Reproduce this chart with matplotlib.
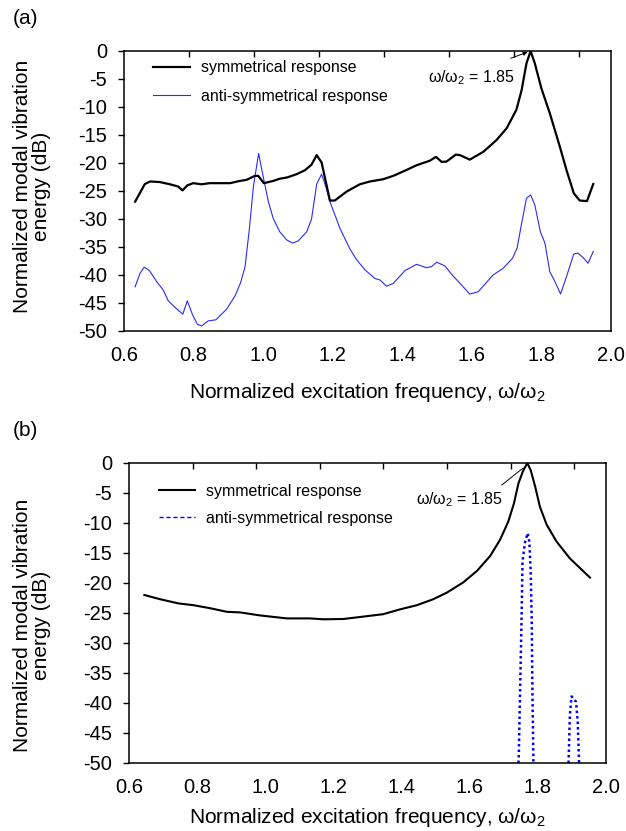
import matplotlib
matplotlib.use("Agg")
import matplotlib.pyplot as plt
from matplotlib.lines import Line2D

plt.rcParams['font.family'] = ['Liberation Sans', 'DejaVu Sans']
plt.rcParams['mathtext.fontset'] = 'custom'
plt.rcParams['mathtext.rm'] = 'Liberation Sans'
plt.rcParams['mathtext.default'] = 'regular'

# ---------------- data ----------------
xticks = [0.6, 0.8, 1.0, 1.2, 1.4, 1.6, 1.8, 2.0]
xtick_labels = ["0.6", "0.8", "1.0", "1.2", "1.4", "1.6", "1.8", "2.0"]
yticks = [0, -5, -10, -15, -20, -25, -30, -35, -40, -45, -50]
ytick_labels = ["0", "-5", "-10", "-15", "-20", "-25", "-30", "-35", "-40", "-45", "-50"]

sym_a_f = [0.632, 0.660, 0.675, 0.703, 0.732, 0.756, 0.768, 0.782, 0.799, 0.823, 0.847, 0.905,
           0.933, 0.953, 0.976, 0.986, 1.002, 1.029, 1.048, 1.068, 1.096, 1.120, 1.139, 1.154,
           1.168, 1.192, 1.206, 1.240, 1.278, 1.307, 1.345, 1.374, 1.412, 1.441, 1.479, 1.497,
           1.513, 1.527, 1.554, 1.566, 1.594, 1.633, 1.671, 1.700, 1.728, 1.743, 1.757, 1.769,
           1.781, 1.800, 1.824, 1.853, 1.872, 1.893, 1.910, 1.931, 1.949]
sym_a_db = [-26.9, -23.75, -23.3, -23.4, -23.8, -24.2, -24.9, -24.0, -23.6, -23.8, -23.6, -23.6,
            -23.2, -23.0, -22.3, -22.3, -23.6, -23.2, -22.8, -22.6, -22.0, -21.3, -20.3, -18.6,
            -19.9, -26.7, -26.7, -25.1, -23.8, -23.3, -22.9, -22.3, -21.25, -20.4, -19.6, -18.9,
            -19.8, -19.75, -18.5, -18.6, -19.4, -18.0, -15.9, -13.8, -10.5, -7.0, -2.2, 0.0,
            -2.2, -6.7, -11.1, -17.1, -21.25, -25.4, -26.7, -26.8, -23.75]

anti_a_f = [0.632, 0.646, 0.658, 0.673, 0.694, 0.713, 0.727, 0.747, 0.769, 0.782, 0.797, 0.811,
            0.823, 0.842, 0.864, 0.895, 0.919, 0.935, 0.948, 0.960, 0.972, 0.987, 1.000, 1.015,
            1.029, 1.048, 1.068, 1.085, 1.101, 1.125, 1.139, 1.154, 1.168, 1.180, 1.192, 1.221,
            1.249, 1.269, 1.293, 1.321, 1.336, 1.355, 1.374, 1.408, 1.441, 1.470, 1.484, 1.499,
            1.523, 1.542, 1.566, 1.594, 1.618, 1.661, 1.690, 1.717, 1.730, 1.743, 1.757, 1.769,
            1.781, 1.797, 1.810, 1.824, 1.839, 1.855, 1.872, 1.893, 1.905, 1.920, 1.934, 1.949]
anti_a_db = [-42.1, -39.7, -38.6, -39.2, -41.2, -42.7, -44.6, -45.8, -47.0, -44.6, -47.1, -48.8,
             -49.1, -48.2, -48.0, -46.1, -43.75, -41.4, -38.5, -32.0, -24.2, -18.3, -22.4, -26.9,
             -29.9, -32.3, -33.75, -34.3, -33.9, -32.3, -30.05, -23.75, -22.0, -24.2, -26.9, -31.7,
             -35.3, -37.3, -39.1, -40.6, -40.9, -42.0, -41.5, -39.2, -38.1, -38.7, -38.5, -37.7,
             -38.4, -39.9, -41.5, -43.4, -43.0, -40.0, -38.8, -37.0, -35.2, -30.8, -26.3, -25.7,
             -27.5, -32.3, -34.3, -39.4, -41.2, -43.4, -40.3, -36.25, -36.1, -36.9, -37.9, -35.8]

sym_b_f = [0.645, 0.691, 0.745, 0.789, 0.838, 0.887, 0.926, 0.984, 1.063, 1.131, 1.170, 1.229,
           1.288, 1.346, 1.395, 1.445, 1.493, 1.533, 1.581, 1.621, 1.660, 1.689, 1.713, 1.730,
           1.743, 1.756, 1.769, 1.779, 1.792, 1.806, 1.826, 1.855, 1.894, 1.953]
sym_b_db = [-22.0, -22.7, -23.4, -23.7, -24.2, -24.8, -24.9, -25.4, -25.9, -25.9, -26.05, -26.0,
            -25.6, -25.2, -24.4, -23.7, -22.7, -21.6, -19.9, -18.0, -15.5, -12.8, -9.8, -6.7,
            -3.4, -1.4, 0.0, -1.2, -3.9, -7.3, -10.3, -13.1, -15.9, -19.1]

anti_b_f1 = [1.743, 1.744, 1.748, 1.752, 1.755, 1.762, 1.770, 1.775, 1.779, 1.782, 1.784, 1.787]
anti_b_db1 = [-50.0, -48.7, -37.6, -26.4, -16.4, -13.3, -11.7, -13.1, -18.1, -26.4, -37.6, -50.0]
anti_b_f2 = [1.890, 1.894, 1.899, 1.912, 1.917, 1.921]
anti_b_db2 = [-50.0, -42.0, -38.9, -39.8, -43.1, -50.0]

legend_labels = ["symmetrical response", "anti-symmetrical response"]
peak_label = "ω/ω$_2$ = 1.85"
xlabel = "Normalized excitation frequency, ω/ω$_2$"
ylabel = "Normalized modal vibration\nenergy (dB)"

# ---------------- figure ----------------
W, H = 626, 831
fig = plt.figure(figsize=(W / 100, H / 100), dpi=100)


def frac_rect(l, t, r, b):
    return [l / W, 1 - b / H, (r - l) / W, (b - t) / H]


TICK_FS = 14.5
LAB_FS = 15
LEG_FS = 11.5


def style_axes(ax, labelpad):
    ax.set_xlim(0.6, 2.0)
    ax.set_ylim(-50, 0)
    ax.set_xticks(xticks)
    ax.set_xticklabels(xtick_labels)
    ax.set_yticks(yticks)
    ax.set_yticklabels(ytick_labels)
    ax.tick_params(axis='x', length=0, pad=11, labelsize=TICK_FS)
    ax.tick_params(axis='y', direction='out', length=4, width=1, pad=8, labelsize=TICK_FS)
    for s in ax.spines.values():
        s.set_linewidth(1.1)
    ax.set_xlabel(xlabel, fontsize=LAB_FS, labelpad=labelpad)
    ax2 = ax.twiny()
    ax2.set_xlim(0, 7.5)
    ax2.set_xticks([1, 2, 3, 4, 5, 6, 7])
    ax2.tick_params(axis='x', direction='in', length=4, width=1, labeltop=False)
    for s in ax2.spines.values():
        s.set_visible(False)
    return ax2


# ----- panel (a) -----
axa = fig.add_axes(frac_rect(124, 51, 611, 331))
style_axes(axa, 11)
axa.plot(sym_a_f, sym_a_db, color='black', lw=1.6, zorder=3)
axa.plot(anti_a_f, anti_a_db, color='#2a2aff', lw=0.8, zorder=2)
ha_a = [Line2D([], [], color='black', lw=1.6), Line2D([], [], color='#2a2aff', lw=0.8)]
axa.legend(ha_a, legend_labels, loc='upper left', bbox_to_anchor=(0.06, 0.967),
           frameon=False, fontsize=LEG_FS, handlelength=2.3, handletextpad=0.7,
           labelspacing=0.85, borderpad=0, borderaxespad=0)
axa.text(1.724, -5.6, peak_label, fontsize=LEG_FS, ha='right', va='baseline')
axa.annotate("", xy=(1.760, -0.2), xytext=(1.712, -1.3),
             arrowprops=dict(arrowstyle='-|>', lw=0.7, color='black', mutation_scale=6,
                             shrinkA=0, shrinkB=0))
fig.text(32 / W, 1 - 186 / H, ylabel, rotation=90, ha='center', va='center',
         fontsize=LAB_FS, linespacing=0.95, multialignment='center')
fig.text(13 / W, 1 - 19 / H, "(a)", ha='left', va='center', fontsize=LAB_FS)

# ----- panel (b) -----
axb = fig.add_axes(frac_rect(129, 463, 606, 763))
style_axes(axb, 6)
axb.plot(sym_b_f, sym_b_db, color='black', lw=1.5, zorder=3)
dot = (0, (1, 1.2))
axb.plot(anti_b_f1, anti_b_db1, color='#0000ff', lw=1.8, linestyle=dot, zorder=2)
axb.plot(anti_b_f2, anti_b_db2, color='#0000ff', lw=1.8, linestyle=dot, zorder=2)
ha_b = [Line2D([], [], color='black', lw=1.5),
        Line2D([], [], color='#0000ff', lw=1.0, linestyle=(0, (3, 2)))]
axb.legend(ha_b, legend_labels, loc='upper left', bbox_to_anchor=(0.062, 0.93),
           frameon=False, fontsize=LEG_FS, handlelength=2.3, handletextpad=0.7,
           labelspacing=0.75, borderpad=0, borderaxespad=0)
axb.text(1.699, -6.83, peak_label, fontsize=LEG_FS, ha='right', va='baseline')
axb.annotate("", xy=(1.757, -0.83), xytext=(1.694, -3.67),
             arrowprops=dict(arrowstyle='-', lw=0.7, color='black',
                             shrinkA=0, shrinkB=0))
fig.text(32 / W, 1 - 625 / H, ylabel, rotation=90, ha='center', va='center',
         fontsize=LAB_FS, linespacing=0.95, multialignment='center')
fig.text(13 / W, 1 - 430 / H, "(b)", ha='left', va='center', fontsize=LAB_FS)

fig.savefig("out.png", dpi=100)
